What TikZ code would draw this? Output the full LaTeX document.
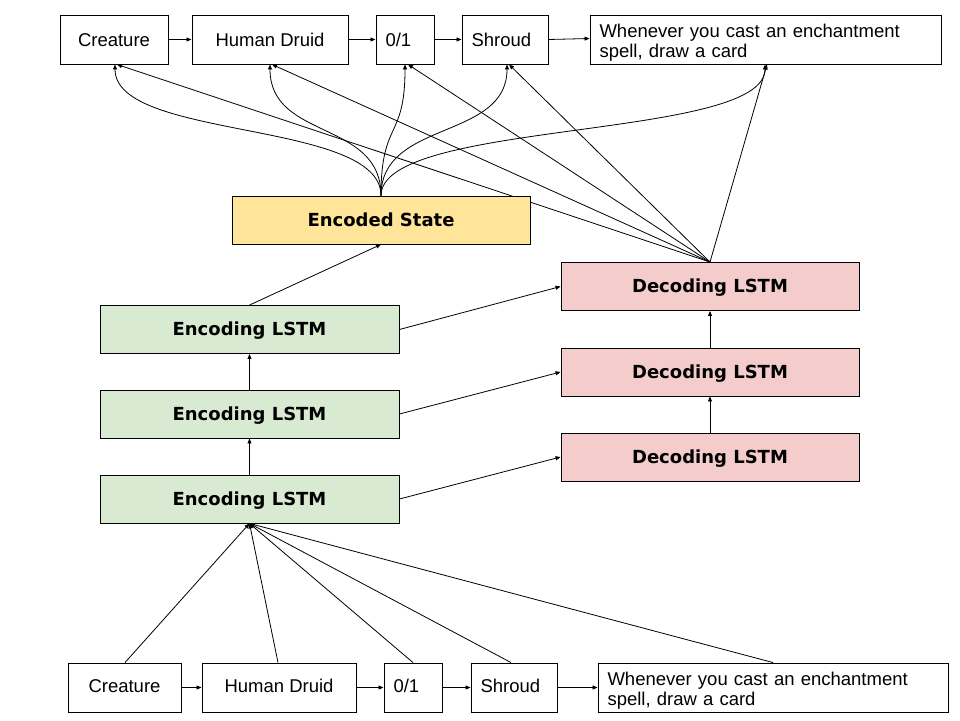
\documentclass[tikz,border=0pt]{standalone}
\usepackage{fontspec}
\setmainfont{Liberation Sans}
\newfontfamily\dvb{DejaVu Sans}
\usetikzlibrary{arrows.meta}
\definecolor{encg}{HTML}{D9EAD3}
\definecolor{decr}{HTML}{F4CCCC}
\definecolor{esy}{HTML}{FFE599}
\pgfdeclarelayer{bg}
\pgfsetlayers{bg,main}
\newcommand{\wtext}{\raisebox{-4pt}[\height][\depth]{\begin{tabular}{@{}l@{}}Whenever you cast an enchantment\\spell, draw a card\end{tabular}}}
\begin{document}
\begin{tikzpicture}[x=1pt,y=-1pt,
  box/.style={draw, line width=0.9pt, fill=white, minimum height=49pt, inner sep=0pt, font=\fontsize{18.5}{20.5}\selectfont},
  lbox/.style={box, align=left, inner xsep=9.5pt},
  toprow/.style={text height=15.4pt, text depth=1pt},
  botrow/.style={text height=13pt, text depth=3pt},
  bbox/.style={draw, line width=0.9pt, minimum height=48pt, minimum width=298pt, inner sep=0pt, text height=15pt, text depth=3pt, font=\dvb\bfseries\fontsize{18}{21}\selectfont},
  arr/.style={-{Triangle[length=5pt,width=4pt]}, line width=0.8pt}]
\useasboundingbox (0,0) rectangle (960,720);
% top row
\node[box, toprow, minimum width=108pt] (tcre) at (114,39.5) {Creature};
\node[box, toprow, minimum width=156pt] (thd) at (270,39.5) {Human Druid};
\node[lbox, toprow, text width=39pt] (t01) at (405,39.5) {0/1};
\node[lbox, toprow, text width=67pt] (tsh) at (505,39.5) {Shroud};
\node[lbox, text width=332pt] (twh) at (765.5,39.5) {\wtext};
% bottom row
\node[box, botrow, minimum width=113pt] (bcre) at (124.5,687.5) {Creature};
\node[box, botrow, minimum width=154pt] (bhd) at (279,687.5) {Human Druid};
\node[lbox, botrow, text width=39pt] (b01) at (413,687.5) {0/1};
\node[lbox, botrow, text width=67pt] (bsh) at (514,687.5) {Shroud};
\node[lbox, text width=331pt] (bwh) at (773,687.5) {\wtext};
% middle
\node[bbox, fill=esy] (es) at (381,220) {Encoded State};
\node[bbox, fill=encg, minimum width=299pt] (enc3) at (249.5,329.5) {Encoding LSTM};
\node[bbox, fill=encg, minimum width=299pt] (enc2) at (249.5,414) {Encoding LSTM};
\node[bbox, fill=encg, minimum width=299pt] (enc1) at (249.5,499) {Encoding LSTM};
\node[bbox, fill=decr] (dec3) at (710,286.5) {Decoding LSTM};
\node[bbox, fill=decr] (dec2) at (710,372) {Decoding LSTM};
\node[bbox, fill=decr] (dec1) at (710,457) {Decoding LSTM};
\begin{pgfonlayer}{bg}
\fill[white] (0,0) rectangle (960,720);
% row chains
\draw[arr] (tcre) -- (thd);
\draw[arr] (thd) -- (t01);
\draw[arr] (t01) -- (tsh);
\draw[arr] (tsh.east) -- ([yshift=1pt]twh.west);
\draw[arr] (bcre) -- (bhd);
\draw[arr] (bhd) -- (b01);
\draw[arr] (b01) -- (bsh);
\draw[arr] (bsh) -- (bwh);
% inputs to encoder
\draw[arr] ([xshift=0.5pt]bcre.north) -- (enc1.south);
\draw[arr] ([xshift=-1pt]bhd.north) -- (enc1.south);
\draw[arr] (b01.north) -- (enc1.south);
\draw[arr] ([xshift=-3pt]bsh.north) -- (enc1.south);
\draw[arr] (bwh.north) -- (enc1.south);
% encoder stack
\draw[arr] (enc1) -- (enc2);
\draw[arr] (enc2) -- (enc3);
\draw[arr] (enc3.north) -- (es.south);
% encoder to decoder
\draw[arr] (enc3.east) -- (dec3.west);
\draw[arr] (enc2.east) -- (dec2.west);
\draw[arr] (enc1.east) -- (dec1.west);
% decoder stack
\draw[arr] (dec1) -- (dec2);
\draw[arr] (dec2) -- (dec3);
% encoded state curves
\draw[arr] (es.north) .. controls +(0,-76) and +(0,76) .. ([xshift=1pt]tcre.south);
\draw[arr] (es.north) .. controls +(0,-76) and +(0,76) .. (thd.south);
\draw[arr] (es.north) .. controls +(0,-76) and +(0,76) .. (t01.south);
\draw[arr] (es.north) .. controls +(0,-76) and +(0,76) .. ([xshift=2pt]tsh.south);
\draw[arr] (es.north) .. controls +(0,-76) and +(0,76) .. ([xshift=-0.5pt]twh.south);
% decoder to outputs
\draw[arr] (dec3.north) -- ([xshift=3pt]tcre.south);
\draw[arr] (dec3.north) -- ([xshift=2pt]thd.south);
\draw[arr] (dec3.north) -- ([xshift=3pt]t01.south);
\draw[arr] (dec3.north) -- ([xshift=4pt]tsh.south);
\draw[arr] (dec3.north) -- ([xshift=1.5pt]twh.south);
\end{pgfonlayer}
\end{tikzpicture}
\end{document}
